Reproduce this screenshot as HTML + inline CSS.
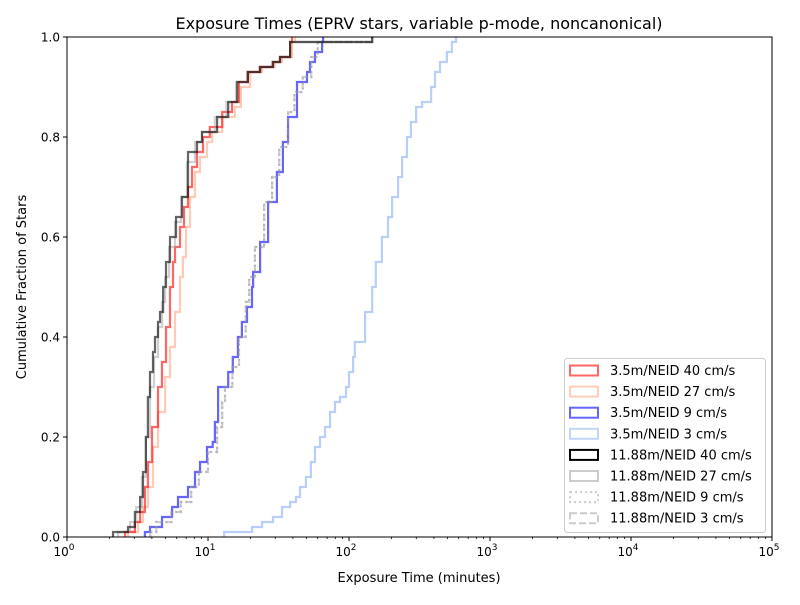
<!DOCTYPE html>
<html><head><meta charset="utf-8"><style>
body{margin:0;background:#fff;}
svg text{font-family:"DejaVu Sans","Liberation Sans",sans-serif;fill:#000;}
</style></head><body>
<svg id="chart" width="800" height="600" xmlns="http://www.w3.org/2000/svg">
<rect width="800" height="600" fill="#fff"/>
<text x="419" y="29" font-size="16" text-anchor="middle">Exposure Times (EPRV stars, variable p-mode, noncanonical)</text>
<g id="grid"></g>
<g id="series"></g>
<rect x="67" y="37" width="705" height="500" fill="none" stroke="#000" stroke-width="1"/>
<g id="axes"></g>
<text x="419" y="582" font-size="13" text-anchor="middle">Exposure Time (minutes)</text>
<text x="26" y="287" font-size="13" text-anchor="middle" transform="rotate(-90 26 287)">Cumulative Fraction of Stars</text>
<g id="legend"></g>
</svg>
<script>
const seriesNames = ["3.5m/NEID 40 cm/s","3.5m/NEID 27 cm/s","3.5m/NEID 9 cm/s","3.5m/NEID 3 cm/s","11.88m/NEID 40 cm/s","11.88m/NEID 27 cm/s","11.88m/NEID 9 cm/s","11.88m/NEID 3 cm/s"];
const red40T = [2.58,3.03,3.30,3.57,3.75,4.01,4.42,4.72,5.04,5.38,5.65,5.83,6.33,6.76,7.21,7.70,8.36,9.22,10.3,12.6,14.8,16.6,19.2,23.4,28.9,32.4,38.2,39.4];
const red40F = [.01,.03,.05,.10,.15,.22,.30,.35,.42,.50,.55,.58,.62,.66,.70,.74,.77,.80,.82,.85,.87,.91,.93,.94,.95,.96,.99,1.0];
const sal27T = [2.71,3.19,3.46,3.75,4.07,4.42,4.96,5.38,5.83,6.33,6.64,6.98,7.45,8.09,8.77,9.84,10.7,12.6,15.5,17.1,19.9,24.2,29.7,33.5,39.4,41.4];
const sal27F = [.01,.03,.06,.10,.18,.25,.32,.38,.45,.52,.56,.62,.68,.73,.76,.79,.81,.84,.86,.90,.93,.94,.95,.96,.99,1.0];
const blue9T = [3.57,3.88,4.72,5.56,6.13,7.21,8.09,8.77,9.84,10.8,11.2,11.8,13.9,15.0,16.3,17.4,18.9,20.5,20.9,23.4,26.7,30.8,34.0,36.9,42.8,50.4,52.9,57.4,64.4,65.5];
const blue9F = [.01,.02,.04,.06,.08,.10,.13,.15,.18,.19,.23,.30,.33,.36,.40,.43,.46,.50,.53,.59,.67,.73,.79,.84,.91,.93,.95,.97,.99,1.0];
const lb3T = [13.0,20.5,24.2,28.9,33.5,38.2,42.1,44.9,49.5,53.7,57.4,62.3,67.6,73.3,79.6,86.3,95.2,100,107,110,130,146,155,171,189,202,223,238,258,275,299,330,382,407,442,495,537,574];
const lb3F = [.01,.02,.03,.04,.06,.07,.08,.10,.12,.15,.18,.20,.22,.25,.27,.28,.30,.33,.36,.39,.45,.50,.55,.60,.64,.68,.72,.76,.80,.83,.86,.87,.90,.93,.95,.97,.99,1.0];
const blk40T = [2.12,2.71,3.03,3.30,3.46,3.63,3.75,3.88,4.07,4.21,4.42,4.57,4.80,5.04,5.38,5.93,6.54,7.21,8.36,9.06,11.6,13.9,16.1,19.2,23.4,28.9,32.4,38.2,146];
const blk40F = [.01,.02,.05,.08,.13,.20,.28,.33,.37,.40,.43,.45,.50,.55,.60,.64,.68,.77,.79,.81,.84,.87,.91,.93,.94,.95,.96,.99,1.0];
const gr27T = [2.3,2.8,3.1,3.4,3.63,3.88,4.14,4.42,4.72,4.96,5.3,5.83,6.43,7.1,8.09,9.06,11.2,13.5,15.8,18.9,23.0,28.4,32.4,38.2,146];
const gr27F = [.01,.03,.06,.12,.20,.30,.36,.42,.47,.52,.58,.63,.68,.75,.79,.81,.84,.87,.91,.93,.94,.95,.96,.99,1.0];
const gr9T = [3.9,4.3,5.5,6.4,7.6,8.6,10.0,11.6,12.6,13.2,14.9,16.6,18.5,19.6,21.5,25.0,28.5,32.0,37.0,41.0,47.0,54,60,146];
const gr9F = [.01,.03,.05,.07,.10,.13,.17,.22,.27,.30,.34,.40,.47,.52,.58,.67,.72,.78,.85,.89,.92,.96,.99,1.0];
const gr3T = [3.9,4.3,5.5,6.4,7.6,8.6,10.0,11.6,12.6,13.2,14.9,16.6,18.5,19.6,21.5,25.0,28.5,32.0,37.0,41.0,47.0,54,60,146];
const gr3F = [.01,.03,.05,.07,.10,.13,.17,.22,.27,.30,.34,.40,.47,.52,.58,.67,.72,.78,.85,.89,.92,.96,.99,1.0];
const xTickExp = [0,1,2,3,4,5];
const yTicks = [0,0.2,0.4,0.6,0.8,1.0];

const NS="http://www.w3.org/2000/svg";
const X0=67,X1=772,Y0=537,Y1=37;
function xs(t){return X0+(X1-X0)*(Math.log10(t)-0)/5;}
function ys(f){return Y0-(Y0-Y1)*f;}
function mk(tag,attrs,parent){const e=document.createElementNS(NS,tag);for(const k in attrs)e.setAttribute(k,attrs[k]);parent.appendChild(e);return e;}

const styles=[
 {t:red40T,f:red40F,c:"rgba(255,0,0,0.6)",d:""},
 {t:sal27T,f:sal27F,c:"rgba(255,160,122,0.55)",d:""},
 {t:blue9T,f:blue9F,c:"rgba(0,0,255,0.6)",d:""},
 {t:lb3T,f:lb3F,c:"rgba(100,149,237,0.45)",d:""},
 {t:blk40T,f:blk40F,c:"rgba(0,0,0,0.6)",d:""},
 {t:gr27T,f:gr27F,c:"rgba(150,150,150,0.45)",d:""},
 {t:gr9T,f:gr9F,c:"rgba(150,150,150,0.45)",d:"2,3"},
 {t:gr3T,f:gr3F,c:"rgba(150,150,150,0.45)",d:"7,3"}
];
const legendColors=["#ff6666","#ffcfbc","#6666ff","#c1d5f8","#000000","#cccccc","#cccccc","#cccccc"];
const sg=document.getElementById('series');
const drawOrder=[3,2,7,6,1,0,5,4];
drawOrder.forEach(i=>{
 const s=styles[i];
 let d="M"+xs(s.t[0]).toFixed(1)+","+ys(0).toFixed(1);
 for(let k=0;k<s.t.length;k++){
   const x=xs(s.t[k]);
   d+=" L"+x.toFixed(1)+","+ys(s.f[k]).toFixed(1);
   if(k+1<s.t.length) d+=" L"+xs(s.t[k+1]).toFixed(1)+","+ys(s.f[k]).toFixed(1);
 }
 const p=mk('path',{d:d,fill:"none",stroke:s.c,"stroke-width":2.2,"stroke-dasharray":s.d},sg);
 
 
});

const ax=document.getElementById('axes');
xTickExp.forEach(e=>{
 const x=xs(Math.pow(10,e));
 mk('line',{x1:x,x2:x,y1:Y0,y2:Y0+4,stroke:"#000","stroke-width":1},ax);
 const t=mk('text',{x:x-3,y:Y0+19,"font-size":12,"text-anchor":"middle"},ax);
 
 
 t.textContent="10";
 const sp=mk('tspan',{dy:-6,"font-size":9},t);sp.textContent=String(e);
 if(e<5){for(let m=2;m<=9;m++){const xm=xs(m*Math.pow(10,e));mk('line',{x1:xm,x2:xm,y1:Y0,y2:Y0+2,stroke:"#000","stroke-width":0.8},ax);}}
});
yTicks.forEach(v=>{
 const y=ys(v);
 mk('line',{x1:X0-4,x2:X0,y1:y,y2:y,stroke:"#000","stroke-width":1},ax);
 const t=mk('text',{x:X0-7,y:y+4.5,"font-size":12,"text-anchor":"end"},ax);
 
 
 t.textContent=v.toFixed(1);
});

const lg=document.getElementById('legend');
mk('rect',{x:564.5,y:358.5,width:201,height:174,rx:3,fill:"#fff","fill-opacity":0.8,stroke:"#ccc"},lg);
seriesNames.forEach((n,i)=>{
 const cy=370.5+i*21.1;
 const g=mk('g',{},lg);
 
 
 mk('rect',{x:570,y:cy-5,width:28,height:10,fill:"none",stroke:legendColors[i],"stroke-width":2,"stroke-dasharray":styles[i].d},g);
 const t=mk('text',{x:610,y:cy+4.5,"font-size":13},g);
 t.textContent=n;
});
</script>
</body></html>
